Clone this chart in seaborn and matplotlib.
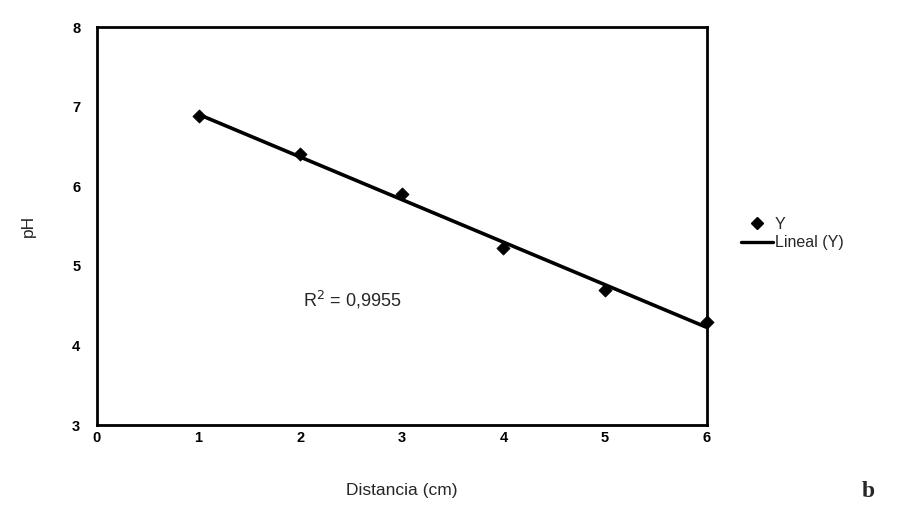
import matplotlib
matplotlib.use("Agg")
import matplotlib.pyplot as plt
import seaborn as sns
import pandas as pd
from matplotlib.lines import Line2D

distancia = [1, 2, 3, 4, 5, 6]
ph = [6.88, 6.40, 5.90, 5.22, 4.70, 4.29]
x_ticks = [0, 1, 2, 3, 4, 5, 6]
y_ticks = [3, 4, 5, 6, 7, 8]
r2_label = "R$^2$ = 0,9955"

df = pd.DataFrame({"Distancia (cm)": distancia, "pH": ph})

sns.set_style("white")
plt.rcParams['font.family'] = ['Liberation Sans', 'DejaVu Sans']

fig = plt.figure(figsize=(9.19, 5.31), dpi=100)
ax = fig.add_axes([0.1055, 0.1996, 0.6635, 0.7494])

sns.regplot(data=df, x="Distancia (cm)", y="pH", ci=None, ax=ax,
            scatter=False, line_kws=dict(color="black", lw=2.6))
sns.scatterplot(data=df, x="Distancia (cm)", y="pH", ax=ax, marker="D",
                color="black", s=45, edgecolor="black", zorder=5, clip_on=False)

ax.set_xlim(0, 6)
ax.set_ylim(3, 8)
ax.set_xticks(x_ticks)
ax.set_yticks(y_ticks)
ax.tick_params(direction="in", length=5, width=1.5, labelsize=10.5, colors="black")
ax.tick_params(axis="x", pad=4)
ax.tick_params(axis="y", pad=12)
for t in ax.get_xticklabels() + ax.get_yticklabels():
    t.set_fontweight("bold")
for s in ax.spines.values():
    s.set_visible(True)
    s.set_color("black")
    s.set_linewidth(2)

ax.set_xlabel("Distancia (cm)", fontsize=12.5, labelpad=28)
ax.set_ylabel("pH", fontsize=12.5, labelpad=26)

ax.text(2.51, 4.57, r2_label, fontsize=13, ha="center", va="center")

handles = [Line2D([], [], marker="D", color="black", ls="none", markersize=6),
           Line2D([], [], color="black", lw=2.4)]
fig.legend(handles, ["Y", "Lineal (Y)"], loc="center left",
           bbox_to_anchor=(0.806, 0.56), frameon=False, fontsize=11.5,
           handlelength=2.0, handletextpad=0.15, labelspacing=0.2,
           borderpad=0, borderaxespad=0)

fig.text(0.945, 0.075, "b", fontsize=17, fontweight="bold", family="Liberation Serif",
         ha="center", va="center")

fig.savefig("out.png", dpi=100, facecolor="white")
